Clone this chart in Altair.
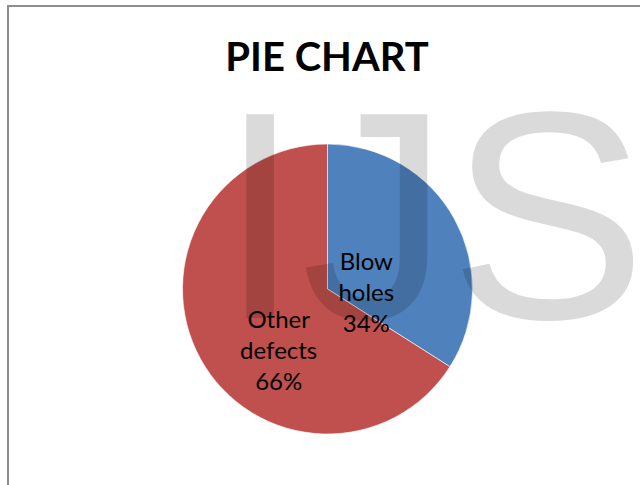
import altair as alt
import pandas as pd

categories = ["Blow holes", "Other defects"]
values = [34, 66]
colors = ["#4F81BD", "#C0504D"]
title_text = "PIE CHART"
watermark_text = "IJS"

df = pd.DataFrame({
    "category": categories,
    "value": values,
    "idx": list(range(len(categories))),
})
df["label"] = [c.replace(" ", "\n") + "\n" + f"{v}%" for c, v in zip(categories, values)]

CX, CY, R = 327.5, 289, 145
single = alt.Data(values=[{}])

base = alt.Chart(df).encode(
    theta=alt.Theta("value:Q", stack=True),
    order=alt.Order("idx:Q"),
)

pie = base.mark_arc(outerRadius=R, stroke="white", strokeWidth=0.6).encode(
    x=alt.value(CX), y=alt.value(CY),
    color=alt.Color("category:N", scale=alt.Scale(domain=categories, range=colors), legend=None),
)

watermark = alt.Chart(single).mark_text(
    align="left", baseline="alphabetic", font="Liberation Sans", fontSize=296,
    color="black", opacity=0.14,
).encode(x=alt.value(219), y=alt.value(318), text=alt.value(watermark_text))

def label_layer(cat, dx, dy):
    return base.mark_text(
        radius=50, dx=dx, dy=dy, align="center", baseline="alphabetic",
        font="Lato", fontSize=24, lineHeight=31, lineBreak="\n", color="black",
    ).encode(
        x=alt.value(CX), y=alt.value(CY),
        text=alt.condition(alt.datum.category == cat, "label:N", alt.value("")),
    )

lab1 = label_layer(categories[0], -5, 5)
lab2 = label_layer(categories[1], -5, 15)

title = alt.Chart(single).mark_text(
    align="center", baseline="alphabetic", font="Lato", fontWeight="bold", fontSize=40,
    color="black",
).encode(x=alt.value(327), y=alt.value(71), text=alt.value(title_text))

border_left = alt.Chart(single).mark_rule(color="#8C8C8C", strokeWidth=2).encode(
    x=alt.value(8), y=alt.value(5), y2=alt.value(485))
border_top = alt.Chart(single).mark_rule(color="#8C8C8C", strokeWidth=2).encode(
    x=alt.value(7), x2=alt.value(640), y=alt.value(6))

chart = alt.layer(pie, watermark, lab1, lab2, title, border_left, border_top).properties(
    width=640, height=485, padding=0, autosize=alt.AutoSizeParams(type="none"),
    background="white",
).configure_view(stroke=None)

chart.save("out.html", embed_options={"renderer": "svg", "actions": False})
